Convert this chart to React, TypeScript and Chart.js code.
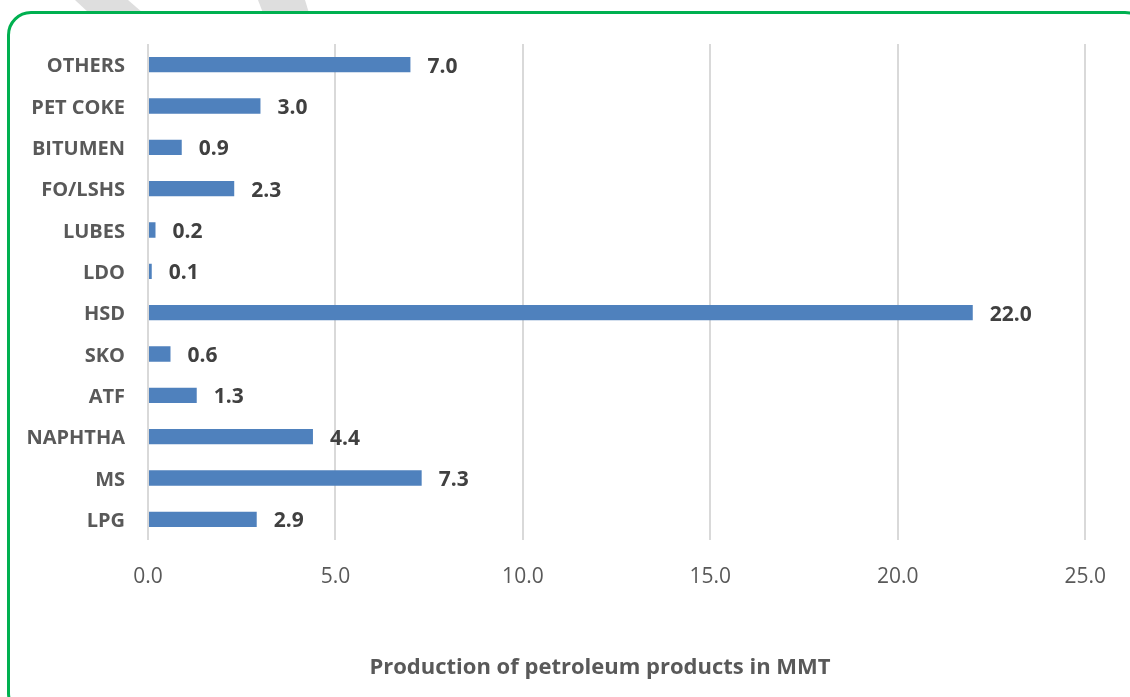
import React, { useEffect, useRef } from "react";
import { Chart, registerables } from "chart.js";

Chart.register(...registerables);

const categories = ["OTHERS", "PET COKE", "BITUMEN", "FO/LSHS", "LUBES", "LDO", "HSD", "SKO", "ATF", "NAPHTHA", "MS", "LPG"];
const production = [7.0, 3.0, 0.9, 2.3, 0.2, 0.1, 22.0, 0.6, 1.3, 4.4, 7.3, 2.9];
const xTickMin = 0;
const xTickMax = 25;
const xTickStep = 5;
const axisTitle = "Production of petroleum products in MMT";

const FONT = "'Open Sans', 'DejaVu Sans', sans-serif";

const valueLabels = {
  id: "valueLabels",
  afterDatasetsDraw(chart: any) {
    const ctx = chart.ctx;
    const meta = chart.getDatasetMeta(0);
    const data = chart.data.datasets[0].data as number[];
    ctx.save();
    ctx.font = `bold 21px ${FONT}`;
    ctx.fillStyle = "#404040";
    ctx.textAlign = "left";
    ctx.textBaseline = "middle";
    meta.data.forEach((bar: any, i: number) => {
      ctx.fillText(Number(data[i]).toFixed(1), bar.x + 17, bar.y + 2);
    });
    ctx.restore();
  },
};

const centeredTitle = {
  id: "centeredTitle",
  afterDraw(chart: any) {
    const ctx = chart.ctx;
    ctx.save();
    ctx.font = `bold 22px ${FONT}`;
    ctx.fillStyle = "#595959";
    ctx.textAlign = "center";
    ctx.textBaseline = "middle";
    ctx.fillText(axisTitle, chart.width / 2 + 35, chart.height - 29);
    ctx.restore();
  },
};

export default function App() {
  const canvasRef = useRef<HTMLCanvasElement | null>(null);

  useEffect(() => {
    if (!canvasRef.current) return;
    const chart = new Chart(canvasRef.current, {
      type: "bar",
      data: {
        labels: categories,
        datasets: [
          {
            data: production,
            backgroundColor: "#4f81bd",
            borderWidth: 0,
            barPercentage: 0.37,
            categoryPercentage: 1,
          },
        ],
      },
      options: {
        indexAxis: "y",
        animation: false,
        responsive: false,
        maintainAspectRatio: false,
        layout: { padding: { top: 44, right: 42, bottom: 0, left: 0 } },
        plugins: {
          legend: { display: false },
          tooltip: { enabled: false },
        },
        scales: {
          x: {
            min: xTickMin,
            max: xTickMax,
            afterFit: (s: any) => {
              s.height = 157;
            },
            ticks: {
              stepSize: xTickStep,
              padding: 24,
              color: "#595959",
              font: { family: FONT, size: 21 },
              callback: (v: any) => Number(v).toFixed(1),
            },
            grid: { color: "#d9d9d9", lineWidth: 2, drawTicks: false },
            border: { display: false },
            title: { display: false },
          },
          y: {
            afterFit: (s: any) => {
              s.width = 148;
            },
            ticks: {
              padding: 23,
              labelOffset: 2,
              color: "#595959",
              font: { family: FONT, size: 20, weight: "bold" },
            },
            grid: { display: false, drawTicks: false },
            border: { display: false },
          },
        },
      },
      plugins: [valueLabels, centeredTitle],
    });
    return () => chart.destroy();
  }, []);

  return (
    <div
      style={{
        position: "fixed",
        left: 0,
        top: 0,
        width: 1130,
        height: 697,
        overflow: "hidden",
        background: "#ffffff",
      }}
    >
      <svg width={1130} height={697} style={{ position: "absolute", left: 0, top: 0 }}>
        <polygon points="75,0 128,0 143,13 89,13" fill="#dedede" />
        <polygon points="258,0 305,0 309,13 263,13" fill="#dedede" />
      </svg>
      <div
        style={{
          position: "absolute",
          left: 7,
          top: 11,
          width: 1136,
          height: 700,
          border: "3px solid #00b050",
          borderRadius: 24,
          background: "#ffffff",
        }}
      />
      <canvas
        ref={canvasRef}
        width={1130}
        height={697}
        style={{ position: "absolute", left: 0, top: 0, width: 1130, height: 697 }}
      />
    </div>
  );
}
